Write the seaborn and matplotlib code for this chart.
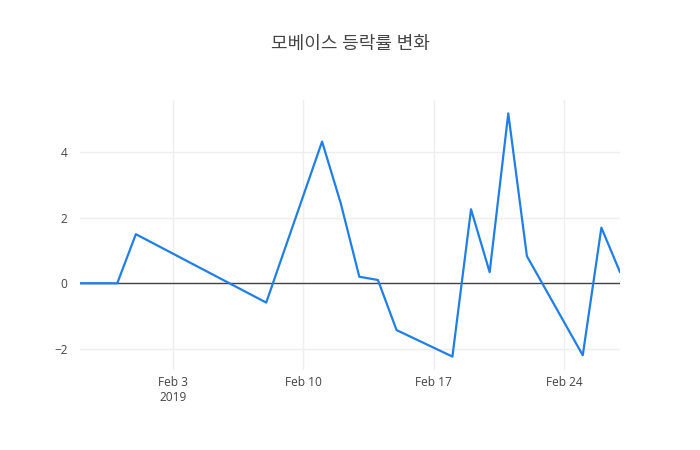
import pandas as pd
import seaborn as sns
import matplotlib.pyplot as plt

# 모베이스 daily change (%)
dates = ['2019-01-29', '2019-01-30', '2019-01-31', '2019-02-01', '2019-02-08',
         '2019-02-11', '2019-02-12', '2019-02-13', '2019-02-14', '2019-02-15',
         '2019-02-18', '2019-02-19', '2019-02-20', '2019-02-21', '2019-02-22',
         '2019-02-25', '2019-02-26', '2019-02-27']
change = [0.0, 0.0, 0.0, 1.50, -0.59,
          4.33, 2.45, 0.20, 0.10, -1.43,
          -2.24, 2.26, 0.34, 5.19, 0.83,
          -2.20, 1.70, 0.34]
tick_dates = ['2019-02-03', '2019-02-10', '2019-02-17', '2019-02-24']
tick_labels = ['Feb 3\n2019', 'Feb 10', 'Feb 17', 'Feb 24']
y_ticks = [-2, 0, 2, 4]

df = pd.DataFrame({'date': pd.to_datetime(dates), 'change': change})

sns.set_style('white')
plt.rcParams['font.family'] = ['Open Sans', 'Noto Sans CJK KR', 'DejaVu Sans']

fig = plt.figure(figsize=(7, 4.5), dpi=100)
ax = fig.add_axes([80 / 700, 80 / 450, 540 / 700, 270 / 450])

ax.axhline(0, color='#444444', linewidth=1, zorder=2)
sns.lineplot(data=df, x='date', y='change', ax=ax, color='#1f7fe6', linewidth=1.6, zorder=3)

ax.set_xlim(df['date'].min(), df['date'].max())
ax.set_ylim(-2.65, 5.6)
ax.set_xticks(pd.to_datetime(tick_dates))
ax.set_xticklabels(tick_labels)
ax.set_yticks(y_ticks)
ax.set_yticklabels([str(v).replace('-', '\u2212') for v in y_ticks])
ax.grid(True, color='#eeeeee', linewidth=1)
ax.set_axisbelow(True)
for s in ax.spines.values():
    s.set_visible(False)
ax.tick_params(axis='both', length=0, labelsize=8.6, colors='#444444')
ax.tick_params(axis='x', pad=4)
ax.tick_params(axis='y', pad=9)
ax.set_xlabel('')
ax.set_ylabel('')

fig.text(0.5, 1 - 44 / 450, '모베이스 등락률 변화', ha='center', va='center',
         fontsize=13, color='#444444')

fig.savefig('out.png', dpi=100)
